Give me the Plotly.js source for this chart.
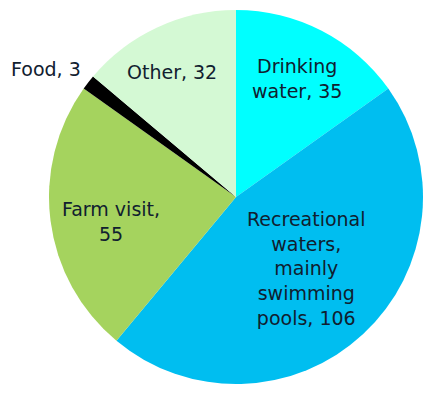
<!DOCTYPE html>
<html>
<head>
<meta charset="utf-8">
<script src="https://cdn.plot.ly/plotly-3.0.1.min.js"></script>
<style>html,body{margin:0;padding:0;background:#fff;}#chart{width:440px;height:397px;}</style>
</head>
<body>
<div id="chart"></div>
<script>
const labels = ["Drinking water", "Recreational waters, mainly swimming pools", "Farm visit", "Food", "Other"];
const values = [35, 106, 55, 3, 32];
const labelLines = ["Drinking<br>water", "Recreational<br>waters,<br>mainly<br>swimming<br>pools", "Farm visit,<br>", "Food", "Other"];
const colors = ["#00FFFF", "#00BEF0", "#A5D35E", "#000000", "#D4F9D4"];

// label anchor positions in pixels (layout only)
const labelPos = [[297, 78], [306, 268], [111, 221], [46, 69], [172, 72]];

const W = 440, H = 397;
const margin = {l: 49, r: 17, t: 10, b: 13};
const pw = W - margin.l - margin.r, ph = H - margin.t - margin.b;

const annotations = labels.map((lab, i) => {
  let txt;
  if (i === 2) txt = labelLines[i] + values[i];
  else txt = labelLines[i] + ", " + values[i];
  return {
    text: txt,
    xref: "paper", yref: "paper",
    x: (labelPos[i][0] - margin.l) / pw,
    y: 1 - (labelPos[i][1] - margin.t) / ph,
    xanchor: "center", yanchor: "middle",
    showarrow: false,
    font: {family: "DejaVu Sans, Verdana, sans-serif", size: 19, color: "#10202f"}
  };
});

const data = [{
  type: "pie",
  labels: labels,
  values: values,
  sort: false,
  direction: "clockwise",
  rotation: 0,
  marker: {colors: colors, line: {width: 0}},
  textinfo: "none",
  hoverinfo: "label+value",
  showlegend: false
}];

const layout = {
  width: W, height: H,
  margin: margin,
  paper_bgcolor: "#ffffff",
  showlegend: false,
  annotations: annotations
};

Plotly.newPlot("chart", data, layout, {displayModeBar: false, staticPlot: true});
</script>
</body>
</html>
